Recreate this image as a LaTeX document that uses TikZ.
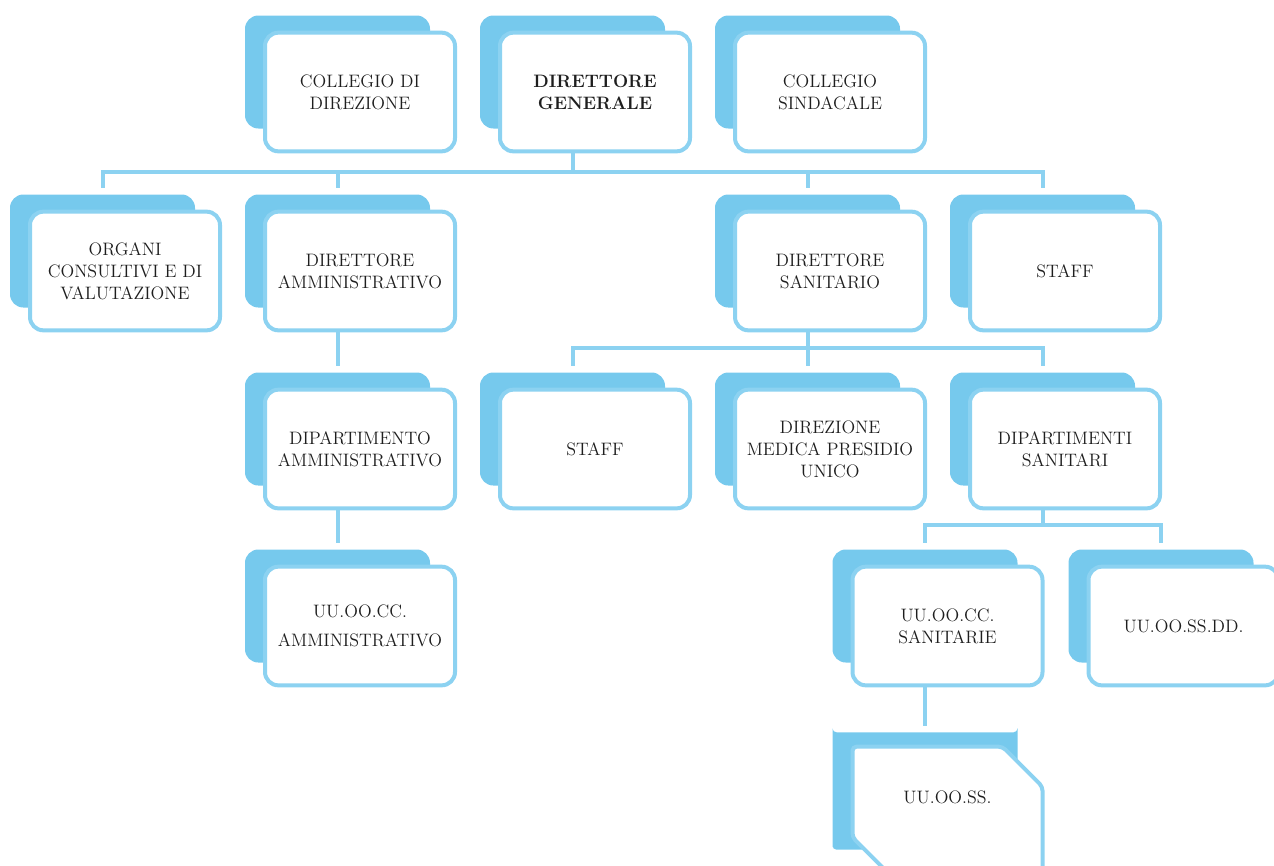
\documentclass[tikz,border=0pt]{standalone}
\usepackage{tikz}
\usetikzlibrary{calc, shapes.misc}
\definecolor{orgback}{RGB}{118,201,237}
\definecolor{orgline}{RGB}{140,210,241}
\definecolor{orgtext}{RGB}{30,30,30}
\tikzset{backbox/.style={fill=orgback, rounded corners=10pt, minimum width=138.75pt, minimum height=84.75pt, inner sep=0pt},
    frontbox/.style={draw=orgline, line width=3pt, fill=white, rounded corners=10pt, minimum width=142.5pt, minimum height=89pt, inner sep=0pt, align=center, text=orgtext, font=\fontsize{13.5}{16.5}\selectfont},
    cutbox/.style={chamfered rectangle, chamfered rectangle xsep=15pt, chamfered rectangle ysep=15pt, rounded corners=3pt},
    link/.style={draw=orgline, line width=3pt, line cap=rect}}

\begin{document}
\begin{tikzpicture}[x=0.75pt, y=-0.75pt]
    \useasboundingbox (0,0) rectangle (1274,865);

    % top row
    \node [backbox] (cdb) at (337.5,72) {};
    \node [frontbox] (cd) at (360,92) {COLLEGIO DI\\DIREZIONE};
    \node [backbox] (dgb) at (572.5,72) {};
    \node [frontbox] (dg) at (595,92) {\bfseries DIRETTORE\\\bfseries GENERALE};
    \node [backbox] (csb) at (807.5,72) {};
    \node [frontbox] (cs) at (830,92) {COLLEGIO\\SINDACALE};

    % second row
    \node [backbox] (orgb) at (102.5,251) {};
    \node [frontbox] (org) at (125,271) {ORGANI\\CONSULTIVI E DI\\VALUTAZIONE};
    \node [backbox] (dab) at (337.5,251) {};
    \node [frontbox] (da) at (360,271) {DIRETTORE\\AMMINISTRATIVO};
    \node [backbox] (dsb) at (807.5,251) {};
    \node [frontbox] (ds) at (830,271) {DIRETTORE\\SANITARIO};
    \node [backbox] (stab) at (1042.5,251) {};
    \node [frontbox] (sta) at (1065,271) {STAFF};

    % third row
    \node [backbox] (dipab) at (337.5,429) {};
    \node [frontbox] (dipa) at (360,449) {DIPARTIMENTO\\AMMINISTRATIVO};
    \node [backbox] (stsb) at (572.5,429) {};
    \node [frontbox] (sts) at (595,449) {STAFF};
    \node [backbox] (dmpb) at (807.5,429) {};
    \node [frontbox] (dmp) at (830,449) {DIREZIONE\\MEDICA PRESIDIO\\UNICO};
    \node [backbox] (dipsb) at (1042.5,429) {};
    \node [frontbox] (dips) at (1065,449) {DIPARTIMENTI\\SANITARI};

    % fourth row
    \node [backbox] (uuab) at (337.5,606) {};
    \node [frontbox] (uua) at (360,626) {UU.OO.CC.\\[5pt]AMMINISTRATIVO};
    \node [backbox] (uucb) at (925,606) {};
    \node [frontbox] (uuc) at (947.5,626) {UU.OO.CC.\\SANITARIE};
    \node [backbox] (uudb) at (1161,606) {};
    \node [frontbox] (uud) at (1183.5,626) {UU.OO.SS.DD.};

    % last row, cut corners, runs off the page
    \node [backbox, cutbox, minimum height=88pt, chamfered rectangle corners=south west] (uusb) at (925,791) {};
    \node [frontbox, cutbox, minimum height=98pt, text depth=22pt, chamfered rectangle corners={north east, south west}] (uus) at (947.5,812) {UU.OO.SS.};

    % connectors
    \coordinate (bus1) at (0,172);
    \coordinate (bus2) at (0,348);
    \coordinate (bus3) at (0,525);
    \draw [link] (dgb |- dg.south) -- (dgb |- bus1);
    \draw [link] (orgb |- bus1) -- (stab |- bus1);
    \foreach \n in {orgb, dab, dsb, stab}
        \draw [link, shorten >=6pt] (\n |- bus1) -- (\n.north);
    \draw [link] (dsb |- ds.south) -- (dsb |- bus2);
    \draw [link] (stsb |- bus2) -- (dipsb |- bus2);
    \foreach \n in {stsb, dmpb, dipsb}
        \draw [link, shorten >=6pt] (\n |- bus2) -- (\n.north);
    \draw [link, shorten >=6pt] (dab |- da.south) -- (dipab.north);
    \draw [link, shorten >=6pt] (dab |- dipa.south) -- (uuab.north);
    \draw [link] (dipsb |- dips.south) -- (dipsb |- bus3);
    \draw [link] (uucb |- bus3) -- (uudb |- bus3);
    \foreach \n in {uucb, uudb}
        \draw [link, shorten >=6pt] (\n |- bus3) -- (\n.north);
    \draw [link, shorten >=6pt] (uucb |- uuc.south) -- (uusb.north);
\end{tikzpicture}
\end{document}
